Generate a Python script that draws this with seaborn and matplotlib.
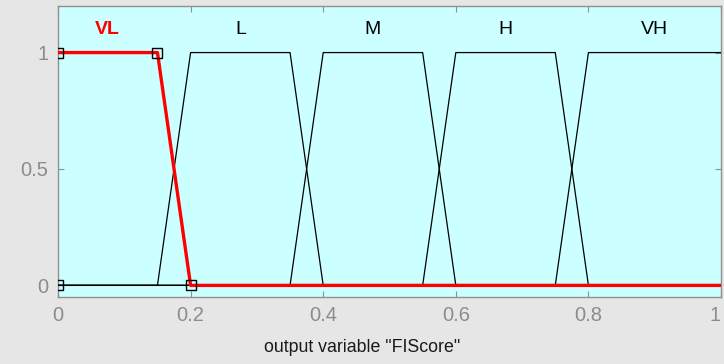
import numpy as np
import pandas as pd
import matplotlib
matplotlib.use("Agg")
import matplotlib.pyplot as plt
import seaborn as sns

# Trapezoidal membership functions of the output variable
mf_names = ["VL", "L", "M", "H", "VH"]
mf_a = [0.00, 0.15, 0.35, 0.55, 0.75]
mf_b = [0.00, 0.20, 0.40, 0.60, 0.80]
mf_c = [0.15, 0.35, 0.55, 0.75, 1.00]
mf_d = [0.20, 0.40, 0.60, 0.80, 1.00]
selected = "VL"
x_ticks = [0, 0.2, 0.4, 0.6, 0.8, 1]
x_tick_labels = ["0", "0.2", "0.4", "0.6", "0.8", "1"]
y_ticks = [0, 0.5, 1]
y_tick_labels = ["0", "0.5", "1"]
x_label = 'output variable "FIScore"'


def trapmf(x, a, b, c, d):
    """Trapezoidal membership value at x."""
    if b <= x <= c:
        return 1.0
    if x <= a or x >= d:
        return 0.0
    if x < b:
        return (x - a) / (b - a)
    return (d - x) / (d - c)


sns.set_theme(style="white")
plt.rcParams["font.family"] = ["Liberation Sans", "DejaVu Sans"]

fig = plt.figure(figsize=(7.24, 3.64), dpi=100, facecolor="#e6e6e6")
ax = fig.add_axes([0.0801, 0.184, 0.9158, 0.7995])
ax.set_facecolor("#ccffff")

rows = []
for name, a, b, c, d in zip(mf_names, mf_a, mf_b, mf_c, mf_d):
    xs = [0.0, a, b, c, d, 1.0]
    for i, xv in enumerate(xs):
        rows.append({"mf": name, "order": i, "x": xv,
                     "y": trapmf(xv, a, b, c, d)})
df = pd.DataFrame(rows)

# unselected functions in thin black, selected one drawn last in thick red
for name in mf_names:
    if name == selected:
        continue
    sub = df[df["mf"] == name]
    sns.lineplot(data=sub, x="x", y="y", sort=False, estimator=None,
                 color="black", linewidth=0.9, ax=ax, zorder=3)

sel = df[df["mf"] == selected]
sns.lineplot(data=sel, x="x", y="y", sort=False, estimator=None,
             color="#ff0000", linewidth=2.4, ax=ax, zorder=4)

# vertex handles of the selected function
k = mf_names.index(selected)
vx = [mf_a[k], mf_b[k], mf_c[k], mf_d[k]]
vy = [0, 1, 1, 0]
ax.plot(vx, vy, linestyle="none", marker="s", markersize=6.5,
        markerfacecolor="none", markeredgecolor="black",
        markeredgewidth=1.0, zorder=5)

# names above each plateau
for name, b, c in zip(mf_names, mf_b, mf_c):
    is_sel = name == selected
    ax.text((b + c) / 2, 1.10, name, ha="center", va="center",
            fontsize=14, color="#ff0000" if is_sel else "black",
            fontweight="bold" if is_sel else "normal")

ax.set_xlim(0, 1)
ax.set_ylim(-0.05, 1.2)
ax.set_xticks(x_ticks)
ax.set_xticklabels(x_tick_labels)
ax.set_yticks(y_ticks)
ax.set_yticklabels(y_tick_labels)
ax.set_xlabel(x_label, fontsize=12.8, color="#1a1a1a")
ax.xaxis.set_label_coords(0.458, -0.143)
ax.set_ylabel("")

ax.tick_params(axis="both", direction="in", length=4, width=0.8,
               color="#909090", labelcolor="#8c8c8c", labelsize=14.5,
               top=True, right=True, left=True, bottom=True)
ax.tick_params(axis="x", pad=6.5)
ax.tick_params(axis="y", pad=7)
# keep the last x tick label inside the figure
ax.get_xticklabels()[-1].set_horizontalalignment("right")
for s in ax.spines.values():
    s.set_color("#909090")
    s.set_linewidth(1.0)
    s.set_visible(True)

fig.savefig("out.png", dpi=100, facecolor=fig.get_facecolor())
